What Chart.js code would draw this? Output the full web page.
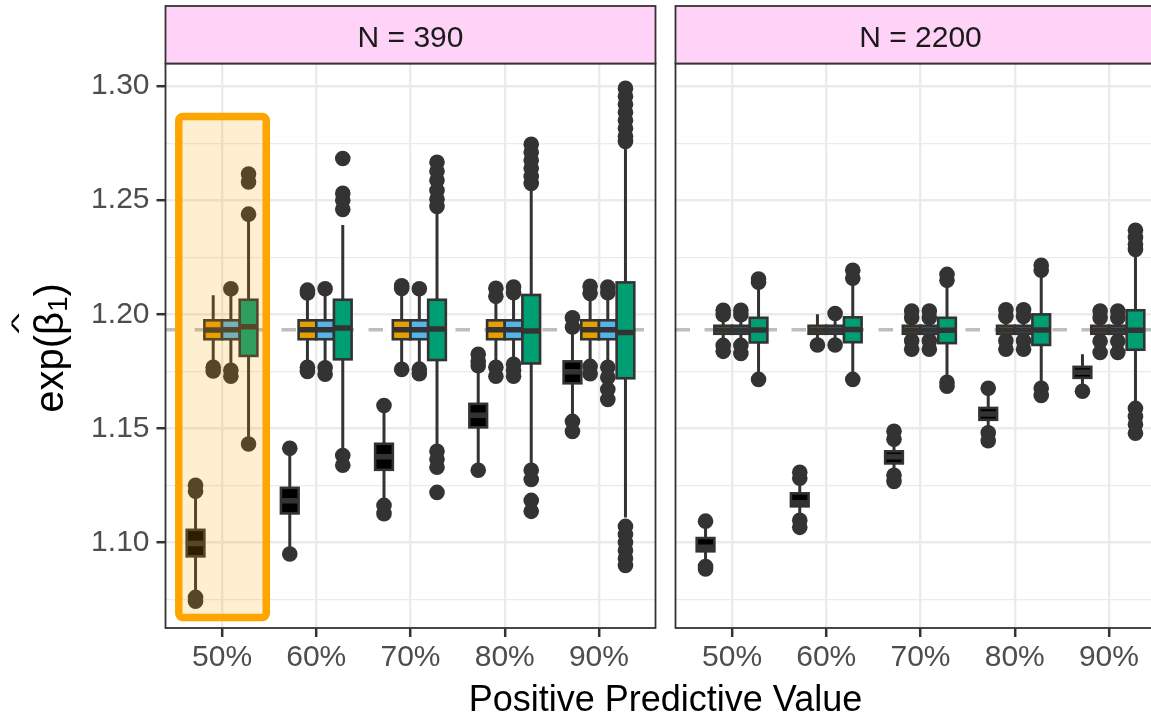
<!DOCTYPE html>
<html>
<head>
<meta charset="utf-8">
<script src="https://cdn.jsdelivr.net/npm/chart.js@4.4.1/dist/chart.umd.min.js"></script>
<style>
html,body{margin:0;padding:0;background:#ffffff;overflow:hidden;width:1151px;height:716px;}
#wrap{position:relative;width:1151px;height:716px;overflow:hidden;}
canvas{position:absolute;left:0;top:0;}
</style>
</head>
<body>
<div id="wrap">
<canvas id="c1" width="1185" height="716" style="width:1185px;height:716px"></canvas>
<canvas id="c2" width="1185" height="716" style="width:1185px;height:716px"></canvas>
</div>
<script>
// ---------------- DATA ----------------
const categories = ['50%', '60%', '70%', '80%', '90%'];
const panels = ['N = 390', 'N = 2200'];
const seriesNames = ['black', 'orange', 'blue', 'green'];
const seriesColors = ['#000000', '#E69F00', '#56B4E9', '#009E73'];
const yMajorTicks = [1.10, 1.15, 1.20, 1.25, 1.30];
const yMinorTicks = [1.075, 1.125, 1.175, 1.225, 1.275];
const yRange = [1.0626, 1.3099];
const referenceValue = 1.1933;

// box stats per category: [whisker low, q1, median, q3, whisker high]
const n390_black = [
  [1.0780, 1.0940, 1.0996, 1.1056, 1.1215],
  [1.0965, 1.1128, 1.1184, 1.1240, 1.1395],
  [1.1175, 1.1319, 1.1376, 1.1433, 1.1585],
  [1.1340, 1.1505, 1.1558, 1.1608, 1.1760],
  [1.1555, 1.1698, 1.1749, 1.1794, 1.1930]
];
const n390_orange = [
  [1.1780, 1.1891, 1.1932, 1.1974, 1.2084],
  [1.1780, 1.1891, 1.1933, 1.1974, 1.2085],
  [1.1780, 1.1891, 1.1933, 1.1974, 1.2085],
  [1.1785, 1.1891, 1.1933, 1.1974, 1.2070],
  [1.1785, 1.1891, 1.1933, 1.1974, 1.2080]
];
const n390_blue = [
  [1.1780, 1.1891, 1.1933, 1.1974, 1.2090],
  [1.1780, 1.1891, 1.1933, 1.1974, 1.2090],
  [1.1780, 1.1891, 1.1933, 1.1974, 1.2090],
  [1.1790, 1.1891, 1.1933, 1.1974, 1.2085],
  [1.1785, 1.1891, 1.1933, 1.1974, 1.2085]
];
const n390_green = [
  [1.1445, 1.1818, 1.1946, 1.2064, 1.2425],
  [1.1395, 1.1803, 1.1940, 1.2064, 1.2391],
  [1.1410, 1.1800, 1.1936, 1.2064, 1.2440],
  [1.1340, 1.1785, 1.1927, 1.2085, 1.2545],
  [1.1110, 1.1720, 1.1920, 1.2140, 1.2740]
];
// outliers per category
const n390_black_out = [
  [1.0760, 1.0743, 1.1225, 1.1251],
  [1.0950, 1.1413],
  [1.1163, 1.1127, 1.1601],
  [1.1317, 1.1775, 1.1795, 1.1825],
  [1.1531, 1.1487, 1.1945, 1.1985]
];
const n390_orange_out = [
  [1.1768, 1.1752],
  [1.2094, 1.2106, 1.1768, 1.1750],
  [1.2113, 1.2125, 1.1759],
  [1.2079, 1.2114, 1.1768, 1.1729],
  [1.2092, 1.2123, 1.1772, 1.1740]
];
const n390_blue_out = [
  [1.2112, 1.1755, 1.1729],
  [1.2112, 1.1766, 1.1738],
  [1.2112, 1.1760, 1.1740],
  [1.2095, 1.2120, 1.1781, 1.1755, 1.1729],
  [1.2095, 1.2120, 1.1768, 1.1724, 1.1671, 1.1627]
];
const n390_green_out = [
  [1.1432, 1.2439, 1.2580, 1.2615],
  [1.1382, 1.1339, 1.2460, 1.2500, 1.2530, 1.2683],
  [1.1400, 1.1365, 1.1330, 1.1220, 1.2473, 1.2504, 1.2543, 1.2587, 1.2627, 1.2666],
  [1.1317, 1.1277, 1.1185, 1.1137, 1.2573, 1.2604, 1.2640, 1.2675, 1.2710, 1.2745],
  [1.1071, 1.1036, 1.1001, 1.0966, 1.0931, 1.0900, 1.2757, 1.2780, 1.2815, 1.2850, 1.2885, 1.2920, 1.2955, 1.2990]
];

const n2200_black = [
  [1.0905, 1.0962, 1.0980, 1.1020, 1.1080],
  [1.1110, 1.1159, 1.1175, 1.1216, 1.1270],
  [1.1305, 1.1347, 1.1376, 1.1400, 1.1440],
  [1.1495, 1.1538, 1.1564, 1.1590, 1.1660],
  [1.1680, 1.1722, 1.1746, 1.1770, 1.1825]
];
const n2200_orange = [
  [1.1870, 1.1915, 1.1932, 1.1950, 1.1995],
  [1.1875, 1.1915, 1.1932, 1.1950, 1.2000],
  [1.1890, 1.1915, 1.1932, 1.1950, 1.1980],
  [1.1890, 1.1915, 1.1932, 1.1950, 1.1985],
  [1.1890, 1.1915, 1.1932, 1.1950, 1.1980]
];
const n2200_blue = [
  [1.1870, 1.1915, 1.1932, 1.1950, 1.1995],
  [1.1875, 1.1915, 1.1932, 1.1950, 1.1990],
  [1.1890, 1.1915, 1.1932, 1.1950, 1.1980],
  [1.1890, 1.1915, 1.1932, 1.1950, 1.1985],
  [1.1890, 1.1915, 1.1932, 1.1950, 1.1980]
];
const n2200_green = [
  [1.1722, 1.1877, 1.1931, 1.1985, 1.2135],
  [1.1725, 1.1878, 1.1934, 1.1987, 1.2145],
  [1.1710, 1.1874, 1.1930, 1.1985, 1.2140],
  [1.1690, 1.1866, 1.1931, 1.2000, 1.2185],
  [1.1600, 1.1845, 1.1930, 1.2018, 1.2270]
];
const n2200_black_out = [
  [1.1094, 1.0895, 1.0885],
  [1.1282, 1.1308, 1.1098, 1.1067],
  [1.1453, 1.1488, 1.1295, 1.1268],
  [1.1676, 1.1481, 1.1446],
  [1.1663]
];
const n2200_orange_out = [
  [1.1998, 1.2018, 1.1864, 1.1838],
  [1.1866],
  [1.1985, 1.2015, 1.1884, 1.1847],
  [1.1991, 1.2020, 1.1884, 1.1847],
  [1.1985, 1.2015, 1.1882, 1.1833]
];
const n2200_blue_out = [
  [1.1998, 1.2018, 1.1864, 1.1829],
  [1.2004, 1.1866],
  [1.1985, 1.2015, 1.1884, 1.1847],
  [1.1991, 1.2020, 1.1884, 1.1847],
  [1.1985, 1.2015, 1.1882, 1.1833]
];
const n2200_green_out = [
  [1.2141, 1.2155, 1.1715],
  [1.2158, 1.2193, 1.1715],
  [1.2149, 1.2175, 1.1702, 1.1685],
  [1.2193, 1.2215, 1.1676, 1.1645],
  [1.2284, 1.2307, 1.2337, 1.2368, 1.1588, 1.1553, 1.1518, 1.1479]
];

// highlighted region (panel N = 390, category 50%), in data units
const highlightX = [0.541, 1.469];
const highlightY = [1.0672, 1.2867];

// ---------------- STYLE / LAYOUT ----------------
const FONT = "'Liberation Sans', Arial, Helvetica, sans-serif";
const dodge = [-0.28125, -0.09375, 0.09375, 0.28125];
const boxWidth = 0.1875;
const GRID = '#EBEBEB';
const DARK = '#333333';

function isMajor(v) { return yMajorTicks.some(t => Math.abs(t - v) < 1e-6); }

function makeDatasets(outs) {
  return outs.map((perCat, si) => ({
    label: seriesNames[si],
    data: perCat.flatMap((arr, ci) => arr.map(v => ({ x: ci + 1 + dodge[si], y: v }))),
    pointRadius: 7.8,
    pointHoverRadius: 7.8,
    pointBackgroundColor: DARK,
    pointBorderWidth: 0,
    showLine: false
  }));
}

function boxPlugin(stats, panelIndex) {
  return {
    id: 'boxes' + panelIndex,
    beforeDatasetsDraw(chart) {
      const { ctx, chartArea: a, scales: { y } } = chart;
      const py = y.getPixelForValue(referenceValue);
      ctx.save();
      ctx.beginPath(); ctx.rect(a.left, a.top, a.width, a.height); ctx.clip();
      ctx.strokeStyle = '#BEBEBE'; ctx.lineWidth = 3.5; ctx.setLineDash([14.5, 14.5]);
      ctx.beginPath(); ctx.moveTo(a.left, py); ctx.lineTo(a.right, py); ctx.stroke();
      ctx.restore();
    },
    afterDatasetsDraw(chart) {
      const { ctx, chartArea: a, scales: { x, y } } = chart;
      ctx.save();
      ctx.beginPath(); ctx.rect(a.left, a.top, a.width, a.height); ctx.clip();
      const hw = (x.getPixelForValue(boxWidth) - x.getPixelForValue(0)) / 2;
      stats.forEach((perCat, si) => {
        perCat.forEach((s, ci) => {
          const xc = x.getPixelForValue(ci + 1 + dodge[si]);
          const [lo, q1, md, q3, hi] = s.map(v => y.getPixelForValue(v));
          ctx.strokeStyle = DARK; ctx.lineWidth = 3.0; ctx.lineCap = 'butt';
          ctx.beginPath();
          ctx.moveTo(xc, q3); ctx.lineTo(xc, hi);
          ctx.moveTo(xc, q1); ctx.lineTo(xc, lo);
          ctx.stroke();
          ctx.fillStyle = seriesColors[si];
          ctx.fillRect(xc - hw, q3, 2 * hw, q1 - q3);
          ctx.lineWidth = 2.6;
          ctx.strokeRect(xc - hw, q3, 2 * hw, q1 - q3);
          ctx.lineWidth = 5.5;
          ctx.beginPath(); ctx.moveTo(xc - hw, md); ctx.lineTo(xc + hw, md); ctx.stroke();
        });
      });
      if (panelIndex === 0) {
        const x0 = x.getPixelForValue(highlightX[0]), x1 = x.getPixelForValue(highlightX[1]);
        const y0 = y.getPixelForValue(highlightY[1]), y1 = y.getPixelForValue(highlightY[0]);
        ctx.beginPath();
        ctx.roundRect(x0, y0, x1 - x0, y1 - y0, 4);
        ctx.fillStyle = 'rgba(255,165,0,0.18)';
        ctx.fill();
        ctx.strokeStyle = '#FFA500'; ctx.lineWidth = 7.5;
        ctx.stroke();
      }
      ctx.restore();
    },
    afterDraw(chart) {
      const { ctx, chartArea: a } = chart;
      ctx.save();
      // panel border
      ctx.strokeStyle = DARK; ctx.lineWidth = 1.8;
      ctx.strokeRect(a.left, a.top, a.width, a.height);
      // strip
      const sTop = 6;
      ctx.fillStyle = '#FFD2F7';
      ctx.fillRect(a.left, sTop, a.width, a.top - sTop);
      ctx.strokeRect(a.left, sTop, a.width, a.top - sTop);
      ctx.fillStyle = '#1A1A1A';
      ctx.font = '30px ' + FONT;
      ctx.textAlign = 'center'; ctx.textBaseline = 'alphabetic';
      ctx.fillText(panels[panelIndex], (a.left + a.right) / 2, 46.5);
      if (panelIndex === 1) {
        ctx.fillStyle = '#000000';
        ctx.font = '36px ' + FONT;
        ctx.fillText('Positive Predictive Value', 665.5, 711);
      } else {
        // y axis title: exp(beta-hat_1)
        ctx.translate(63, 348);
        ctx.rotate(-Math.PI / 2);
        ctx.fillStyle = '#000000';
        ctx.textAlign = 'left'; ctx.textBaseline = 'alphabetic';
        ctx.font = '40px ' + FONT;
        const w1 = ctx.measureText('exp(').width;
        const wb = ctx.measureText('\u03B2').width;
        const w2 = ctx.measureText(')').width;
        ctx.font = '28px ' + FONT;
        const ws = ctx.measureText('1').width;
        const total = w1 + wb + ws + w2;
        let xx = -total / 2;
        ctx.font = '40px ' + FONT;
        ctx.fillText('exp(', xx, 0); xx += w1;
        ctx.fillText('\u03B2', xx, 0);
        const hatW = ctx.measureText('^').width;
        ctx.save();
        ctx.translate(xx + wb / 2, -36.7);
        ctx.scale(1.1, 0.5);
        ctx.fillText('^', -hatW / 2, 0);
        ctx.restore();
        xx += wb;
        ctx.font = '28px ' + FONT;
        ctx.fillText('1', xx, 4); xx += ws;
        ctx.font = '40px ' + FONT;
        ctx.fillText(')', xx, 0);
      }
      ctx.restore();
    }
  };
}

function makeChart(id, panelIndex, stats, outs) {
  const isLeft = panelIndex === 0;
  const tickFont = { family: FONT, size: 30 };
  return new Chart(document.getElementById(id), {
    type: 'scatter',
    data: { datasets: makeDatasets(outs) },
    options: {
      responsive: false,
      animation: false,
      events: [],
      layout: { padding: isLeft ? { left: 0, right: 1185 - 655.5, top: 63.5, bottom: 0 }
                                : { left: 675.5, right: 1185 - 1165.5, top: 63.5, bottom: 0 } },
      plugins: { legend: { display: false }, tooltip: { enabled: false } },
      scales: {
        x: {
          type: 'linear', min: 0.4, max: 5.6,
          afterBuildTicks: s => { s.ticks = categories.map((c, i) => ({ value: i + 1 })); },
          afterFit: s => { s.height = 88; },
          ticks: {
            callback: v => categories[Math.round(v) - 1] ?? '',
            autoSkip: false, maxRotation: 0, minRotation: 0,
            font: tickFont, color: '#4D4D4D', padding: 3
          },
          grid: { color: GRID, lineWidth: 2.4, tickLength: 9, tickColor: DARK, tickWidth: 2.5 },
          border: { display: false }
        },
        y: {
          type: 'linear', min: yRange[0], max: yRange[1],
          afterBuildTicks: s => {
            s.ticks = [...yMinorTicks, ...yMajorTicks].sort((a, b) => a - b).map(v => ({ value: v }));
          },
          afterFit: s => { s.width = isLeft ? 165.5 : 0; },
          ticks: {
            display: isLeft,
            callback: v => isMajor(v) ? v.toFixed(2) : '',
            autoSkip: false, font: tickFont, color: '#4D4D4D', padding: 7
          },
          grid: {
            color: GRID,
            lineWidth: c => (c.tick && isMajor(c.tick.value)) ? 2.4 : 1.2,
            drawTicks: isLeft, tickLength: 9,
            tickColor: c => (c.tick && isMajor(c.tick.value)) ? DARK : 'rgba(0,0,0,0)',
            tickWidth: 2.5
          },
          border: { display: false }
        }
      }
    },
    plugins: [boxPlugin(stats, panelIndex)]
  });
}

makeChart('c1', 0, [n390_black, n390_orange, n390_blue, n390_green],
  [n390_black_out, n390_orange_out, n390_blue_out, n390_green_out]);
makeChart('c2', 1, [n2200_black, n2200_orange, n2200_blue, n2200_green],
  [n2200_black_out, n2200_orange_out, n2200_blue_out, n2200_green_out]);
</script>
</body>
</html>
